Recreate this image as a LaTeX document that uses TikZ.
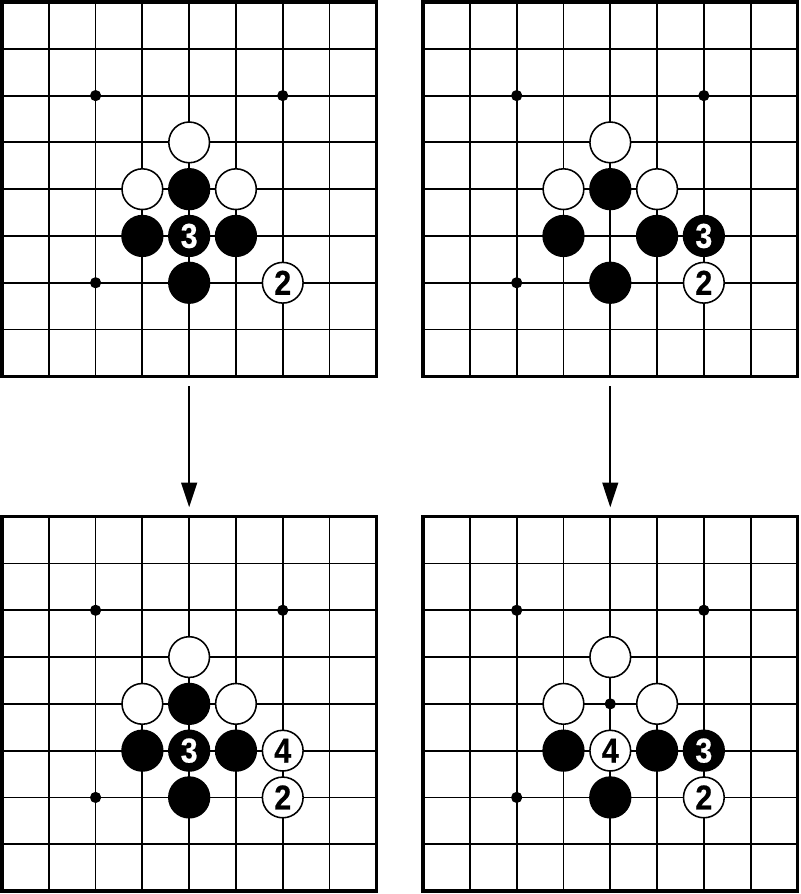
\documentclass[tikz,border=0pt]{standalone}
\usepackage{fontspec}
\setmainfont{Liberation Sans}
\newfontfamily\stonefont[FakeStretch=0.88,FakeBold=0.6]{Liberation Sans Bold}
\usetikzlibrary{arrows.meta}

\begin{document}
\begin{tikzpicture}[
  gridline/.style={black,line width=1.1pt},
  frame/.style={black,line width=2.1pt},
  star/.style={circle,fill=black,inner sep=0pt,minimum size=0.24cm},
  wstone/.style={circle,draw=black,fill=white,line width=0.95pt,inner sep=0pt,minimum size=0.87cm,font=\stonefont\fontsize{21}{21}\selectfont},
  bstone/.style={wstone,fill=black,text=white},
  arrowline/.style={line width=1.3pt,-{Triangle[length=15pt,width=9.5pt]}}
 ]
 \useasboundingbox (-0.043,0.043) rectangle (17.064,-19.064);
 % the four boards
 \foreach \bx/\by/\bn in {0/0/a,9/0/b,0/-11/c,9/-11/d}{
  \begin{scope}[shift={(\bx,\by)}]
   \draw[gridline] (0,0) grid (8,-8);
   \draw[frame] (0,0) rectangle (8,-8);
   \foreach \sx/\sy in {2/2,6/2,2/6,6/6,4/4}
    \node[star] (\bn-s\sx\sy) at (\sx,-\sy) {};
  \end{scope}
 }
 % top left
 \node[wstone] (a43) at (4,-3) {};
 \node[wstone] (a34) at (3,-4) {};
 \node[bstone] (a44) at (4,-4) {};
 \node[wstone] (a54) at (5,-4) {};
 \node[bstone] (a35) at (3,-5) {};
 \node[bstone] (a45) at (4,-5) {3};
 \node[bstone] (a55) at (5,-5) {};
 \node[bstone] (a46) at (4,-6) {};
 \node[wstone] (a66) at (6,-6) {2};
 % top right
 \node[wstone] (b43) at (13,-3) {};
 \node[wstone] (b34) at (12,-4) {};
 \node[bstone] (b44) at (13,-4) {};
 \node[wstone] (b54) at (14,-4) {};
 \node[bstone] (b35) at (12,-5) {};
 \node[bstone] (b55) at (14,-5) {};
 \node[bstone] (b65) at (15,-5) {3};
 \node[bstone] (b46) at (13,-6) {};
 \node[wstone] (b66) at (15,-6) {2};
 % bottom left
 \node[wstone] (c43) at (4,-14) {};
 \node[wstone] (c34) at (3,-15) {};
 \node[bstone] (c44) at (4,-15) {};
 \node[wstone] (c54) at (5,-15) {};
 \node[bstone] (c35) at (3,-16) {};
 \node[bstone] (c45) at (4,-16) {3};
 \node[bstone] (c55) at (5,-16) {};
 \node[wstone] (c65) at (6,-16) {4};
 \node[bstone] (c46) at (4,-17) {};
 \node[wstone] (c66) at (6,-17) {2};
 % bottom right
 \node[wstone] (d43) at (13,-14) {};
 \node[wstone] (d34) at (12,-15) {};
 \node[wstone] (d54) at (14,-15) {};
 \node[bstone] (d35) at (12,-16) {};
 \node[wstone] (d45) at (13,-16) {4};
 \node[bstone] (d55) at (14,-16) {};
 \node[bstone] (d65) at (15,-16) {3};
 \node[bstone] (d46) at (13,-17) {};
 \node[wstone] (d66) at (15,-17) {2};
 % arrows
 \coordinate (a-out) at (4,-8.21);
 \coordinate (c-in) at (4,-10.8);
 \coordinate (b-out) at (13,-8.21);
 \coordinate (d-in) at (13,-10.8);
 \draw[arrowline] (a-out) -- (c-in);
 \draw[arrowline] (b-out) -- (d-in);
\end{tikzpicture}
\end{document}
